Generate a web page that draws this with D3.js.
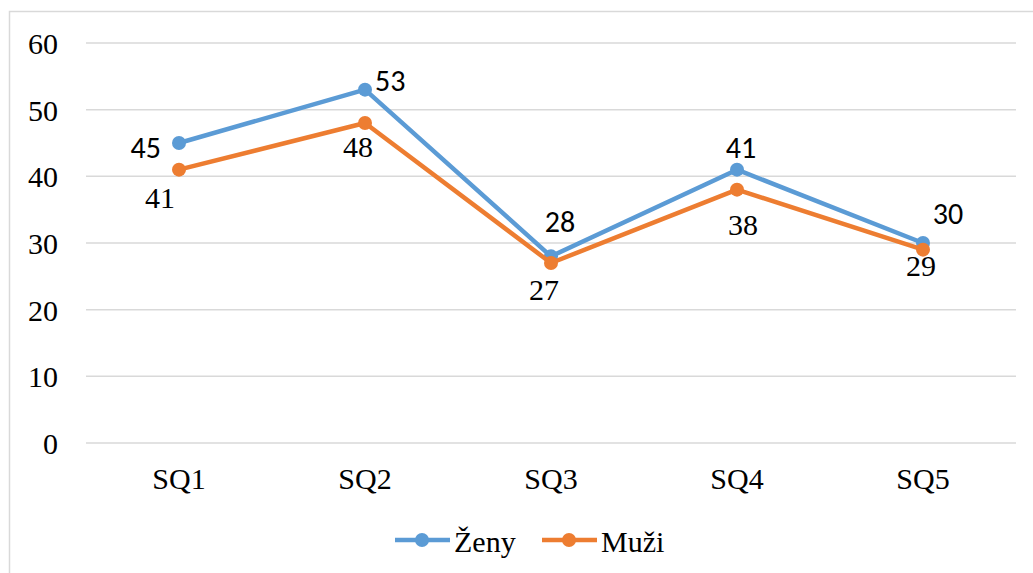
<!DOCTYPE html>
<html>
<head>
<meta charset="utf-8">
<script src="https://cdn.jsdelivr.net/npm/d3@7"></script>
<style>
  body { margin: 0; background: #fff; }
  svg { display: block; }
  text.serif { font-family: 'Liberation Serif', 'Times New Roman', 'FreeSerif'; font-size: 30px; }
  text.cal { font-family: 'Carlito', 'Lato'; font-size: 30px; }
</style>
</head>
<body>
<svg width="1033" height="573"></svg>
<script>
// data
const categories = ['SQ1', 'SQ2', 'SQ3', 'SQ4', 'SQ5']
const zeny = [45, 53, 28, 41, 30]
const muzi = [41, 48, 27, 38, 29]
const yTicks = [0, 10, 20, 30, 40, 50, 60]

const series = [
  { name: 'Ženy', values: zeny, color: '#5B9BD5', cls: 'cal',
    // label offsets from the marker to the text baseline (dx, dy), anchor
    labels: [[-18, 15, 'end'], [10, 1, 'start'], [9, -24, 'middle'], [4, -12, 'middle'], [25, -19, 'middle']] },
  { name: 'Muži', values: muzi, color: '#ED7D31', cls: 'serif',
    labels: [[-19, 38, 'middle'], [-7, 34, 'middle'], [-7, 37, 'middle'], [6, 45, 'middle'], [-2, 26, 'middle']] }
]

const svg = d3.select('svg')
const margin = {top: 43, right: 17, bottom: 130, left: 86}
const width = 1033 - margin.left - margin.right
const height = 573 - margin.top - margin.bottom

// outer chart border (runs off the right and bottom edges)
svg.append('rect')
  .attr('x', 9.5).attr('y', 11.5)
  .attr('width', 1060).attr('height', 600)
  .attr('fill', 'none')
  .attr('stroke', '#d9d9d9')
  .attr('stroke-width', 1.5)

const g = svg.append('g').attr('transform', 'translate(' + margin.left + ',' + margin.top + ')')

const x = d3.scaleBand().domain(categories).range([0, width])
const y = d3.scaleLinear().domain([0, 60]).range([height, 0])

// gridlines
g.append('g')
  .selectAll('line')
  .data(yTicks)
  .enter().append('line')
    .attr('x1', 0).attr('x2', width)
    .attr('y1', d => y(d)).attr('y2', d => y(d))
    .attr('stroke', '#d9d9d9')
    .attr('stroke-width', 1.5)

// y axis labels
const yAxis = g.append('g')
  .call(d3.axisLeft(y).tickValues(yTicks).tickSize(0).tickPadding(28).tickFormat(d3.format('d')))
  .attr('font-family', null)
  .attr('font-size', null)
yAxis.select('.domain').remove()
yAxis.selectAll('text')
  .attr('class', 'serif')
  .attr('fill', '#000')
  .attr('dy', '0.35em')

// x axis labels
const xAxis = g.append('g')
  .attr('transform', 'translate(0,' + height + ')')
  .call(d3.axisBottom(x).tickSize(0).tickPadding(25))
  .attr('font-family', null)
  .attr('font-size', null)
xAxis.select('.domain').remove()
xAxis.selectAll('text')
  .attr('class', 'serif')
  .attr('fill', '#000')

const line = d3.line()
  .x((d, i) => x(categories[i]) + x.bandwidth() / 2)
  .y(d => y(d))

series.forEach(s => {
  const sg = g.append('g')
  sg.append('path')
    .datum(s.values)
    .attr('d', line)
    .attr('fill', 'none')
    .attr('stroke', s.color)
    .attr('stroke-width', 4.5)
    .attr('stroke-linejoin', 'round')

  sg.selectAll('circle')
    .data(s.values)
    .enter().append('circle')
      .attr('cx', (d, i) => x(categories[i]) + x.bandwidth() / 2)
      .attr('cy', d => y(d))
      .attr('r', 7)
      .attr('fill', s.color)
})

// data labels on top
series.forEach(s => {
  g.append('g')
    .selectAll('text')
    .data(s.values)
    .enter().append('text')
      .attr('class', s.cls)
      .attr('x', (d, i) => x(categories[i]) + x.bandwidth() / 2 + s.labels[i][0])
      .attr('y', (d, i) => y(d) + s.labels[i][1])
      .attr('text-anchor', (d, i) => s.labels[i][2])
      .attr('fill', '#000')
      .text(d => d)
})

// legend
const legend = svg.append('g')
const legendX = [395, 542]
series.forEach((s, i) => {
  const lg = legend.append('g').attr('transform', 'translate(' + legendX[i] + ',540)')
  lg.append('line')
    .attr('x1', 0).attr('x2', 55)
    .attr('stroke', s.color)
    .attr('stroke-width', 4.5)
  lg.append('circle')
    .attr('cx', 27).attr('r', 7)
    .attr('fill', s.color)
  lg.append('text')
    .attr('class', 'serif')
    .attr('x', 59)
    .attr('y', 12)
    .attr('fill', '#000')
    .text(s.name)
})
</script>
</body>
</html>
